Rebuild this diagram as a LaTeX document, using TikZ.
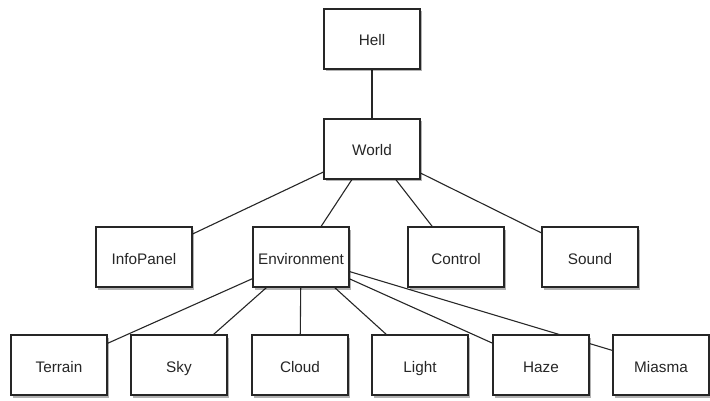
\documentclass[tikz,border=0pt]{standalone}
\usepackage{fontspec}
\setmainfont{Liberation Sans}
\usetikzlibrary{shadows,backgrounds}
\begin{document}
\begin{tikzpicture}[x=1pt,y=-1pt,
  box/.style={draw=black!85, line width=1.3pt, fill=white, minimum width=96pt, minimum height=60pt,
    inner sep=0pt, text height=14pt, text depth=0pt, text=black!85, font=\fontsize{15.3}{17}\selectfont,
    general shadow={shadow xshift=1.5pt, shadow yshift=-2.5pt, fill=black, opacity=0.3}},
  link/.style={draw=black!85, line width=1.1pt}]
\useasboundingbox (0,0) rectangle (710,401);
\node[box] (hell) at (372,39) {Hell};
\node[box] (world) at (372,149) {World};
\node[box] (info) at (144,257) {InfoPanel};
\node[box] (env) at (301,257) {Environment};
\node[box] (control) at (456,257) {Control};
\node[box] (sound) at (590,257) {Sound};
\node[box] (terrain) at (59,365) {Terrain};
\node[box] (sky) at (179,365) {Sky};
\node[box] (cloud) at (300,365) {Cloud};
\node[box] (light) at (420,365) {Light};
\node[box] (haze) at (541,365) {Haze};
\node[box] (miasma) at (661,365) {Miasma};
\begin{pgfonlayer}{background}
\foreach \a/\b in {hell/world, world/info, world/env, world/control, world/sound,
  env/terrain, env/sky, env/cloud, env/light, env/haze, env/miasma}
  \draw[link] (\a.center) -- (\b.center);
\end{pgfonlayer}
\end{tikzpicture}
\end{document}
